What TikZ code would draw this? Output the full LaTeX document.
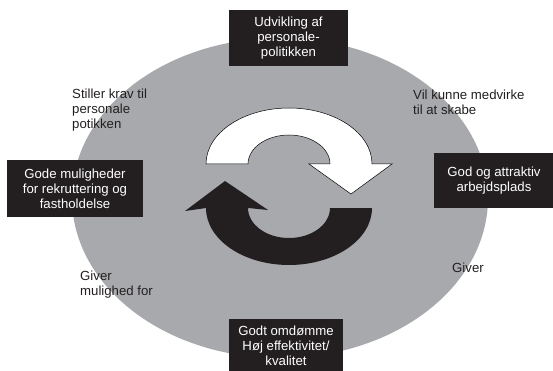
\documentclass[tikz,border=0pt]{standalone}
\usepackage{fontspec}
\setmainfont{Liberation Sans}
\definecolor{wheelgray}{HTML}{A7A9AC}
\definecolor{boxblack}{HTML}{231F20}
\begin{document}
\begin{tikzpicture}[
  x=1pt, y=-1pt,
  blackbox/.style={rectangle, fill=boxblack, text=white, align=center, inner sep=0pt},
  note/.style={anchor=west, align=left, inner sep=0pt, text=boxblack},
  every node/.style={font=\fontsize{13.2}{15}\selectfont}
]
  \useasboundingbox (0,0) rectangle (553,371);

  % background wheel
  \fill[wheelgray] (280,198) ellipse [x radius=208, y radius=160];

  % white arrow (top)
  \draw[fill=white, line width=0.5pt]
    (206,164) arc [start angle=180, end angle=360, x radius=83, y radius=56]
    -- (392,164) -- (351,194) -- (309,164) -- (330,164)
    arc [start angle=360, end angle=180, x radius=41, y radius=29]
    -- cycle;

  % black arrow (bottom)
  \fill[boxblack]
    (372,208) arc [start angle=0, end angle=180, x radius=83, y radius=57]
    -- (185,211) -- (225,181) -- (268,210) -- (248,208)
    arc [start angle=180, end angle=0, x radius=41, y radius=30]
    -- cycle;

  \node[blackbox, minimum width=119pt, minimum height=56pt] (policy) at (288.5,38) {Udvikling af\\personale-\\politikken};
  \node[blackbox, minimum width=136pt, minimum height=57pt] (recruit) at (75,188.5) {Gode muligheder\\for rekruttering og\\fastholdelse};
  \node[blackbox, minimum width=120pt, minimum height=55pt] (workplace) at (494,180.5) {God og attraktiv\\arbejdsplads};
  \node[blackbox, minimum width=114pt, minimum height=54pt] (reputation) at (286,346) {Godt omdømme\\Høj effektivitet/\\kvalitet};

  \node[note] (demands) at (72,110) {Stiller krav til\\personale\\potikken};
  \node[note] (helps) at (413,102.5) {Vil kunne medvirke\\til at skabe};
  \node[note] (givesleft) at (80,284.5) {Giver\\mulighed for};
  \node[note] (givesright) at (452,268) {Giver};

\end{tikzpicture}
\end{document}
